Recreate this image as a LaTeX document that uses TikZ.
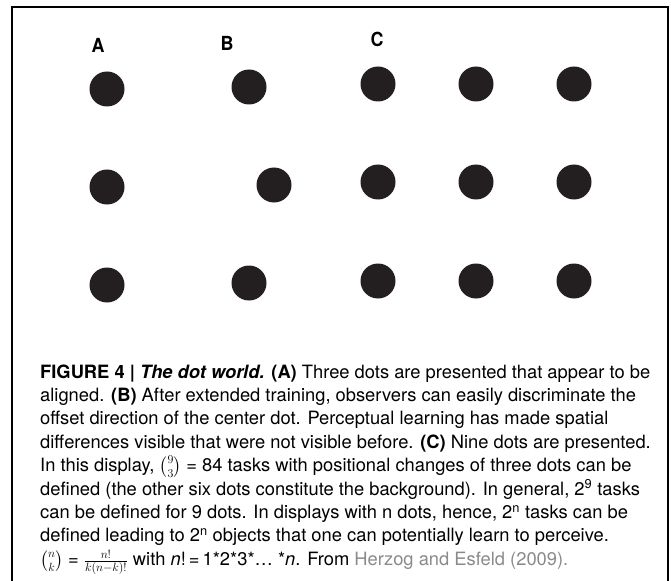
\documentclass[tikz,border=0pt]{standalone}
\usepackage{fontspec}
\usepackage{amsmath}
\newfontfamily\capfont{TeX Gyre Heros}
\newfontfamily\lblfont[FakeStretch=0.92]{TeX Gyre Heros}
\definecolor{dotcol}{HTML}{231F20}
\definecolor{refgray}{HTML}{8A8A8A}
\begin{document}
\begin{tikzpicture}[x=1bp,y=-1bp,
  dotnode/.style={circle,fill=dotcol,draw=none,minimum size=35bp,inner sep=0pt},
  lbl/.style={font=\lblfont\bfseries\fontsize{19.5}{20}\selectfont,inner sep=0pt},
  capline/.style={anchor=base west,inner sep=0pt,text height=13bp,text depth=4bp,font=\capfont\fontsize{18.4}{20}\selectfont},
  frame/.style={line width=1.4bp,draw=black}]
\useasboundingbox (0,0) rectangle (671,581);
% frame
\coordinate (fbl) at (12,581);
\coordinate (ftl) at (12,7);
\coordinate (ftr) at (668,7);
\coordinate (fbr) at (668,581);
\draw[frame] (fbl) -- (ftl) -- (ftr) -- (fbr);
% labels
\node[lbl] (la) at (98,45) {A};
\node[lbl] (lb) at (227,43) {B};
\node[lbl] (lc) at (377,39) {C};
% column A
\node[dotnode] (a1) at (107,89) {};
\node[dotnode] (a2) at (107,187) {};
\node[dotnode] (a3) at (107,285) {};
% column B
\node[dotnode] (b1) at (249,87) {};
\node[dotnode] (b2) at (274,185) {};
\node[dotnode] (b3) at (249,283) {};
% grid C
\node[dotnode] (c11) at (378,84) {};
\node[dotnode] (c12) at (476,84) {};
\node[dotnode] (c13) at (574,84) {};
\node[dotnode] (c21) at (378,182) {};
\node[dotnode] (c22) at (476,182) {};
\node[dotnode] (c23) at (574,182) {};
\node[dotnode] (c31) at (378,281) {};
\node[dotnode] (c32) at (476,281) {};
\node[dotnode] (c33) at (574,281) {};
% caption
\node[capline] (l1) at (40,378) {\textbf{FIGURE 4 | \textit{The dot world.} (A)} Three dots are presented that appear to be};
\node[capline] (l2) at (40,401.4) {aligned. \textbf{(B)} After extended training, observers can easily discriminate the};
\node[capline] (l3) at (40,424.8) {offset direction of the center dot. Perceptual learning has made spatial};
\node[capline] (l4) at (40,448.2) {differences visible that were not visible before. \textbf{(C)} Nine dots are presented.};
\node[capline] (l5) at (40,471.6) {In this display, $\tbinom{9}{3}$ = 84 tasks with positional changes of three dots can be};
\node[capline] (l6) at (40,495) {defined (the other six dots constitute the background). In general, 2\textsuperscript{9} tasks};
\node[capline] (l7) at (40,518.4) {can be defined for 9 dots. In displays with n dots, hence, 2\textsuperscript{n} tasks can be};
\node[capline] (l8) at (40,541.8) {defined leading to 2\textsuperscript{n} objects that one can potentially learn to perceive.};
\node[capline] (l9) at (40,565.2) {$\tbinom{n}{k}$ = $\tfrac{n!}{k(n-k)!}$ with \textit{n}!\,=\,1*2*3*\dots\ *\textit{n}. From \textcolor{refgray}{Herzog and Esfeld (2009).}};
\end{tikzpicture}
\end{document}
